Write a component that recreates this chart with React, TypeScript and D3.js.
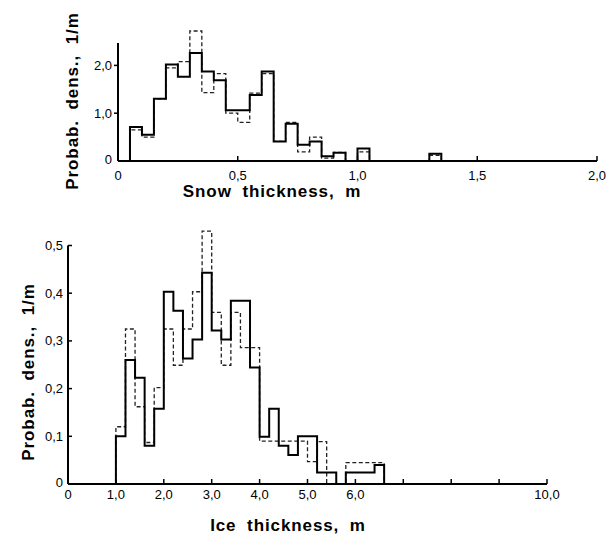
import React, { useEffect, useRef } from 'react';
import * as d3 from 'd3';

// Snow thickness histogram, bin width 0.05 m (left edges)
const snowBinStart = [0.05, 0.10, 0.15, 0.20, 0.25, 0.30, 0.35, 0.40, 0.45, 0.50, 0.55, 0.60, 0.65, 0.70, 0.75, 0.80, 0.85, 0.90, 0.95, 1.00, 1.05, 1.10, 1.15, 1.20, 1.25, 1.30];
const snowSolid = [0.71, 0.55, 1.30, 2.02, 1.76, 2.26, 1.87, 1.69, 1.06, 1.06, 1.38, 1.87, 0.41, 0.78, 0.34, 0.41, 0.10, 0.17, 0, 0.26, 0, 0, 0, 0, 0, 0.15];
const snowDashed = [0.65, 0.50, 1.30, 1.95, 2.08, 2.72, 1.43, 1.83, 1.00, 0.81, 1.42, 1.83, 0.41, 0.81, 0.19, 0.50, 0.06, 0.18, 0, 0.19, 0, 0, 0, 0, 0, 0.12];
const snowBinWidth = 0.05;
const snowTicksX = [0, 0.5, 1.0, 1.5, 2.0];
const snowTicksY = [0, 1.0, 2.0];

// Ice thickness histogram, bin width 0.2 m (left edges)
const iceBinStart = [1.0, 1.2, 1.4, 1.6, 1.8, 2.0, 2.2, 2.4, 2.6, 2.8, 3.0, 3.2, 3.4, 3.6, 3.8, 4.0, 4.2, 4.4, 4.6, 4.8, 5.0, 5.2, 5.4, 5.6, 5.8, 6.0, 6.2, 6.4];
const iceSolid = [0.100, 0.260, 0.223, 0.080, 0.158, 0.403, 0.363, 0.263, 0.303, 0.443, 0.322, 0.303, 0.384, 0.384, 0.244, 0.099, 0.158, 0.080, 0.061, 0.100, 0.100, 0.024, 0.024, 0, 0.024, 0.024, 0.024, 0.040];
const iceDashed = [0.120, 0.325, 0.162, 0.087, 0.202, 0.325, 0.249, 0.325, 0.403, 0.530, 0.360, 0.249, 0.360, 0.286, 0.286, 0.090, 0.090, 0.090, 0.090, 0.090, 0.047, 0.089, 0, 0, 0.045, 0.045, 0.045, 0.045];
const iceBinWidth = 0.2;
const iceTicksX = [0, 1, 2, 3, 4, 5, 6, 7, 8, 9, 10];
const iceLabelsX = [0, 1, 2, 3, 4, 5, 6, 10];
const iceTicksY = [0, 0.1, 0.2, 0.3, 0.4, 0.5];

const fmt = (v: number, digits: number) => (v === 0 ? '0' : d3.format(`.${digits}f`)(v).replace('.', ','));

const tickFont = '"Liberation Sans", Arial, sans-serif';
const titleFont = '"Liberation Sans", Arial, sans-serif';

const App = () => {
    const svgRef = useRef<SVGSVGElement | null>(null);

    useEffect(() => {
        const svg = d3.select(svgRef.current);
        svg.selectAll('*').remove();

        // draws one histogram panel
        const panel = (opts: any) => {
            const { x, y, bins, binW, solid, dashed, ticksX, labelsX, ticksY, digitsX, digitsY, yTop, yTickDir, xTitle, xTitleY, xLabelY, yTitleX, yLabelRight } = opts;
            const g = svg.append('g');

            const stepPoints = (vals: number[]) => {
                const pts: [number, number][] = [[bins[0], 0]];
                vals.forEach((v, i) => {
                    pts.push([bins[i], v]);
                    pts.push([bins[i] + binW, v]);
                });
                pts.push([bins[bins.length - 1] + binW, 0]);
                return pts;
            };
            const line = d3.line<[number, number]>().x(d => x(d[0])).y(d => y(d[1]));

            g.append('path')
                .attr('d', line(stepPoints(dashed)))
                .attr('fill', 'none')
                .attr('stroke', '#222')
                .attr('stroke-width', 1.3)
                .attr('stroke-dasharray', '4,2.5');

            g.append('path')
                .attr('d', line(stepPoints(solid)))
                .attr('fill', 'none')
                .attr('stroke', '#000')
                .attr('stroke-width', 2);

            // axes
            const x0 = x.range()[0], x1 = x.range()[1], y0 = y(0);
            g.append('line').attr('x1', x0).attr('x2', x1).attr('y1', y0).attr('y2', y0)
                .attr('stroke', '#000').attr('stroke-width', 2);
            g.append('line').attr('x1', x0).attr('x2', x0).attr('y1', y0).attr('y2', y(yTop))
                .attr('stroke', '#000').attr('stroke-width', 2);

            g.selectAll('.xt').data(ticksX.filter((t: number) => t !== 0)).enter().append('line')
                .attr('x1', (d: number) => x(d)).attr('x2', (d: number) => x(d))
                .attr('y1', y0).attr('y2', y0 - 5)
                .attr('stroke', '#000').attr('stroke-width', 1.5);
            g.selectAll('.yt').data(ticksY.filter((t: number) => t !== 0)).enter().append('line')
                .attr('x1', x0).attr('x2', x0 + 4 * yTickDir)
                .attr('y1', (d: number) => y(d)).attr('y2', (d: number) => y(d))
                .attr('stroke', '#000').attr('stroke-width', 1.5);

            g.selectAll('.xl').data(labelsX).enter().append('text')
                .attr('x', (d: number) => x(d)).attr('y', xLabelY)
                .attr('text-anchor', 'middle')
                .style('font-family', tickFont).style('font-size', '13px')
                .text((d: number) => fmt(d, digitsX));
            g.selectAll('.yl').data(ticksY).enter().append('text')
                .attr('x', yLabelRight).attr('y', (d: number) => y(d) + (d === 0 ? -2 : 0))
                .attr('dy', '0.35em')
                .attr('text-anchor', 'end')
                .style('font-family', tickFont).style('font-size', '13px')
                .text((d: number) => fmt(d, digitsY));

            g.append('text')
                .attr('x', opts.xTitleX).attr('y', xTitleY)
                .attr('text-anchor', 'middle')
                .style('font-family', titleFont).style('font-size', '17px').style('font-weight', 'bold')
                .style('letter-spacing', '0.9px').style('word-spacing', '5px')
                .text(xTitle);
            g.append('text')
                .attr('transform', `translate(${yTitleX},${opts.yTitleY}) rotate(-90)`)
                .attr('text-anchor', 'middle')
                .style('font-family', titleFont).style('font-size', '17px').style('font-weight', 'bold')
                .style('letter-spacing', '0.9px').style('word-spacing', '5px')
                .text('Probab. dens., 1/m');
        };

        const snowX = d3.scaleLinear().domain([0, 2]).range([118, 597]);
        const snowY = d3.scaleLinear().domain([0, 1]).range([161, 113.2]);
        panel({
            x: snowX, y: snowY, bins: snowBinStart, binW: snowBinWidth, solid: snowSolid, dashed: snowDashed,
            ticksX: snowTicksX, labelsX: snowTicksX, ticksY: snowTicksY, digitsX: 1, digitsY: 1, yTop: 2.47, yTickDir: -1,
            xTitle: 'Snow thickness, m', xTitleX: 272, xTitleY: 197, xLabelY: 180, yTitleX: 78, yTitleY: 101, yLabelRight: 112,
        });

        const iceX = d3.scaleLinear().domain([0, 10]).range([68, 547]);
        const iceY = d3.scaleLinear().domain([0, 0.5]).range([484, 245.5]);
        panel({
            x: iceX, y: iceY, bins: iceBinStart, binW: iceBinWidth, solid: iceSolid, dashed: iceDashed,
            ticksX: iceTicksX, labelsX: iceLabelsX, ticksY: iceTicksY, digitsX: 1, digitsY: 1, yTop: 0.5, yTickDir: 1,
            xTitle: 'Ice thickness, m', xTitleX: 288, xTitleY: 531, xLabelY: 499, yTitleX: 34, yTitleY: 372, yLabelRight: 63,
        });
    }, []);

    return (
        <svg ref={svgRef} width={607} height={535}
            style={{ position: 'absolute', left: 0, top: 0, background: '#fff' }} />
    );
};

export default App;
